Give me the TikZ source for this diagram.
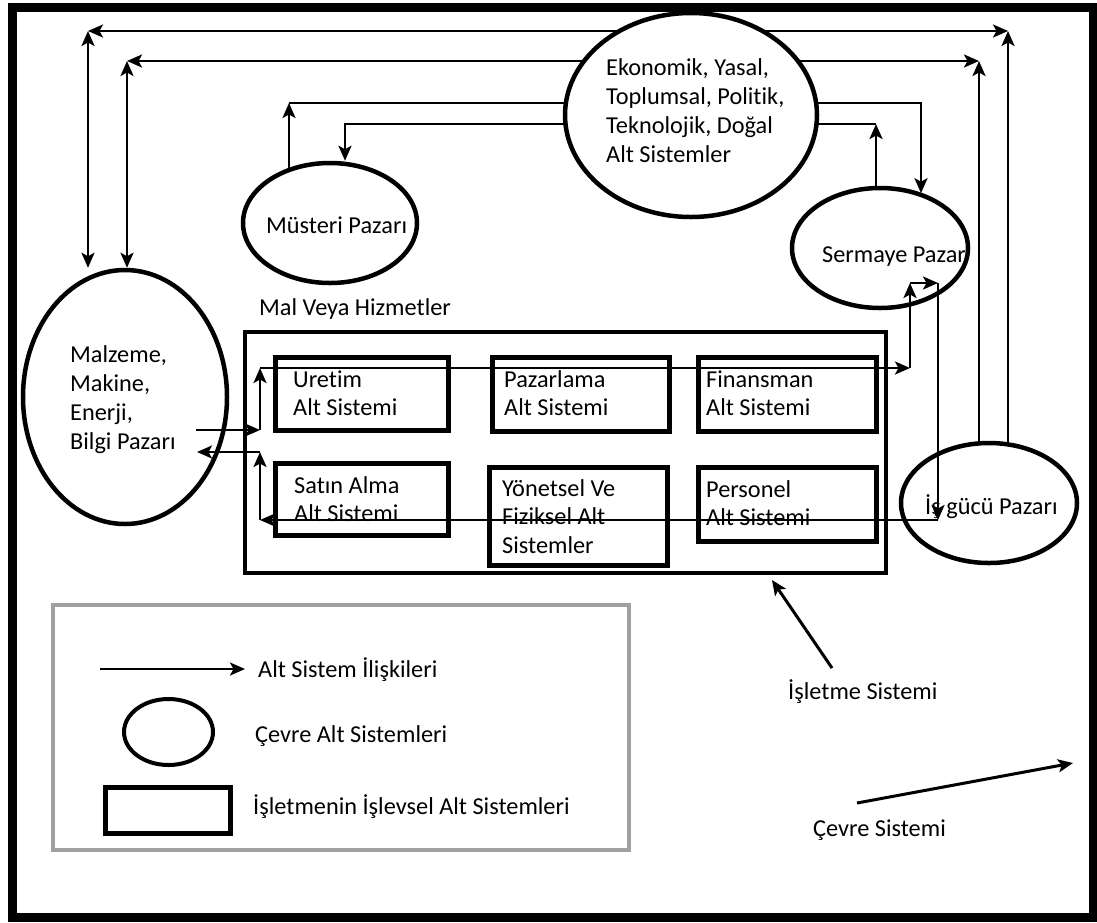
\documentclass[tikz,border=0pt]{standalone}
\usepackage{fontspec}
\setmainfont{Carlito}[Ligatures=NoCommon]
\usetikzlibrary{arrows.meta,shapes.geometric}
\pgfdeclarelayer{background}
\pgfsetlayers{background,main}
\definecolor{legendgray}{RGB}{160,160,160}
% left-aligned block of lines whose baseline is the first line
\newcommand{\txtrows}[1]{\begin{tabular}[t]{@{}l@{}}#1\end{tabular}}

\begin{document}
\begin{tikzpicture}[x=1pt,y=-1pt,
  font=\fontsize{24.3}{29}\selectfont,
  env/.style={ellipse, draw, line width=4.5pt, fill=white, inner sep=0pt},
  unit/.style={draw, line width=5pt, inner sep=0pt},
  lbl/.style={anchor=base west, inner sep=0pt},
  boxtxt/.style={lbl, font=\fontsize{24.3}{28.5}\selectfont},
  tip/.tip={Stealth[length=15pt,width=13pt,inset=3.5pt]},
  rel/.style={line width=2.6pt, -tip},
  relboth/.style={line width=2.6pt, tip-tip},
]
\useasboundingbox (0,0) rectangle (1097,922);

% outer frame: the environment system
\draw[line width=9pt] (12,7.5) rectangle (1093,917.5);

% environment subsystems
\node[env, minimum width=252pt, minimum height=204pt] (ekon) at (691,115) {};
\node[env, minimum width=174pt, minimum height=120pt] (mus)  at (330,223) {};
\node[env, minimum width=176pt, minimum height=120pt] (serm) at (880,248) {};
\node[env, minimum width=176pt, minimum height=120pt] (isg)  at (989,503) {};
\node[env, minimum width=204pt, minimum height=254pt] (malz) at (125,397) {};

\node[lbl] (ekonT) at (606,75) {\txtrows{Ekonomik, Yasal,\\ Toplumsal, Politik,\\ Teknolojik, Doğal\\ Alt Sistemler}};
\node[lbl] (musT)  at (266,233) {Müsteri Pazarı};
\node[lbl] (sermT) at (822,262) {Sermaye Pazar};
\node[lbl] (isgT)  at (925,514) {İş gücü Pazarı};
\node[lbl] (malzT) at (70,362) {\txtrows{Malzeme,\\ Makine,\\ Enerji,\\ Bilgi Pazarı}};
\node[lbl] (malT)  at (259,315) {Mal Veya Hizmetler};

% the business system and its functional subsystems
\node[draw, line width=4pt, inner sep=0pt, minimum width=641pt, minimum height=241pt] (isletme) at (565.5,452.5) {};
\node[unit, minimum width=173pt, minimum height=73pt] (uretim) at (361.5,393.5) {};
\node[unit, minimum width=173pt, minimum height=72pt] (satin)  at (361.5,499) {};
\node[unit, minimum width=177pt, minimum height=74pt] (pazar)  at (580.5,394) {};
\node[unit, minimum width=178pt, minimum height=98pt] (yonet)  at (578,516) {};
\node[unit, minimum width=178pt, minimum height=74pt] (finans) at (787,394) {};
\node[unit, minimum width=178pt, minimum height=74pt] (person) at (787,504) {};

\node[boxtxt] (uretimT) at (293,387) {\txtrows{Uretim\\ Alt Sistemi}};
\node[boxtxt] (satinT)  at (294,493) {\txtrows{Satın Alma\\ Alt Sistemi}};
\node[boxtxt] (pazarT)  at (504,387) {\txtrows{Pazarlama\\ Alt Sistemi}};
\node[boxtxt] (yonetT)  at (502,496) {\txtrows{Yönetsel Ve\\ Fiziksel Alt\\ Sistemler}};
\node[boxtxt] (finansT) at (706,387) {\txtrows{Finansman\\ Alt Sistemi}};
\node[boxtxt] (personT) at (706,497) {\txtrows{Personel\\ Alt Sistemi}};

% corner points of the outer relation lines
\coordinate (c1) at (88,31);
\coordinate (c2) at (1008,31);
\coordinate (c3) at (127,61);
\coordinate (c4) at (979,61);
\coordinate (c5) at (289,103);
\coordinate (c6) at (921,103);
\coordinate (c7) at (345,124);
\coordinate (c8) at (876,124);

% outer relations run behind the filled ellipses
\begin{pgfonlayer}{background}
  \draw[relboth] (c1) -- (c2);
  \draw[relboth] (c1) -- (c1 |- malz.north);
  \draw[rel] (c2 |- isg.center) -- (c2);
  \draw[relboth] (c3) -- (c4);
  \draw[relboth] (c3) -- (c3 |- malz.north);
  \draw[rel] (c4 |- isg.center) -- (c4);
  \draw[rel] (c5 |- mus.center) -- (c5);
  \draw[rel] (c5) -- (c6) -- (c6 |- serm.52);
  \draw[rel] (c8 |- serm.center) -- (c8);
  \draw[rel] (c8) -- (c7) -- (c7 |- mus.north);
\end{pgfonlayer}

% inner flow through the subsystems
\coordinate (m1) at (196,430);
\coordinate (m2) at (260,430);
\coordinate (m3) at (260,368);
\coordinate (m4) at (910,368);
\coordinate (m5) at (910,283);
\coordinate (m6) at (938,283);
\coordinate (m7) at (938,520);
\coordinate (m8) at (260,520);
\coordinate (m9) at (260,452);
\coordinate (m10) at (197,452);
\draw[rel] (m1) -- (m2);
\draw[rel] (m2) -- (m3);
\draw[rel] (m3) -- (m4);
\draw[rel] (m4) -- (m5);
\draw[rel] (m5) -- (m6);
\draw[rel] (m6) -- (m7);
\draw[rel] (m7) -- (m8);
\draw[rel] (m8) -- (m9);
\draw[rel] (m9) -- (m10);

% pointers to the two systems
\coordinate (a1) at (832,668);
\coordinate (a2) at (772,580);
\draw[rel, line width=3pt] (a1) -- (a2);
\node[lbl] (isletT) at (788,699) {İşletme Sistemi};
\coordinate (b1) at (857,803);
\coordinate (b2) at (1073,763);
\draw[rel, line width=3pt] (b1) -- (b2);
\node[lbl] (cevreT) at (813,836) {Çevre Sistemi};

% legend
\node[draw=legendgray, line width=4.5pt, inner sep=0pt, minimum width=576pt, minimum height=245pt] (legend) at (341,727.5) {};
\coordinate (l1) at (100,669);
\coordinate (l2) at (245,669);
\draw[rel] (l1) -- (l2);
\node[lbl] (legRelT) at (258,677) {Alt Sistem İlişkileri};
\node[ellipse, draw, line width=4pt, inner sep=0pt, minimum width=89pt, minimum height=66pt] (legEnv) at (168.5,732) {};
\node[lbl] (legEnvT) at (255,742) {Çevre Alt Sistemleri};
\node[unit, minimum width=125pt, minimum height=46pt] (legUnit) at (167.5,810) {};
\node[lbl] (legUnitT) at (253,814) {İşletmenin İşlevsel Alt Sistemleri};
\end{tikzpicture}
\end{document}
